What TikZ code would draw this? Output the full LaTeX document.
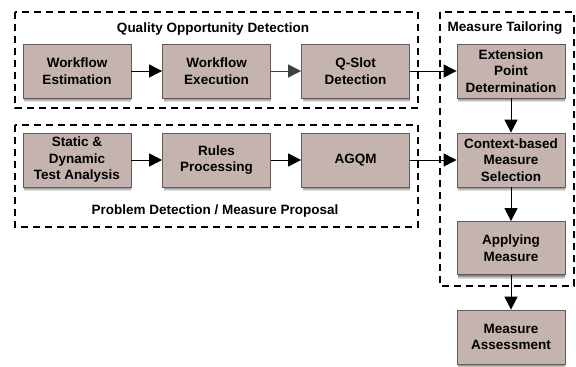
\documentclass[tikz,border=0pt]{standalone}
\usepackage{fontspec}
\setmainfont{Liberation Sans}
\usetikzlibrary{arrows.meta}
\definecolor{boxfill}{HTML}{C4B3AF}
\definecolor{boxline}{HTML}{6A5856}
\definecolor{shade}{HTML}{CFCACA}
\tikzset{
  x=1pt,y=-1pt,
  proc/.style={draw=boxline,fill=boxfill,line width=0.8pt,minimum width=108pt,minimum height=54pt,
    align=center,font=\fontsize{13.5}{16.5}\selectfont\bfseries,inner sep=1pt},
  grp/.style={draw,dashed,dash pattern=on 7pt off 5pt,line width=1.2pt},
  arr/.style={-{Triangle[length=13pt,width=13pt]},line width=1pt},
  lbl/.style={font=\fontsize{13.5}{16}\selectfont\bfseries,inner sep=0pt}
}
\newcommand{\shadowbox}[2]{\fill[shade] (#1+1,#2+54) rectangle (#1+108,#2+58);}
\begin{document}
\begin{tikzpicture}
\useasboundingbox (0,0) rectangle (576,367);
% groups
\draw[grp] (15,12) rectangle (418,108);
\draw[grp] (15,125) rectangle (418,227);
\draw[grp] (440,12) rectangle (574,286);
\node[lbl] (qodl) at (213,29) {Quality Opportunity Detection};
\node[lbl] (mtl) at (505,28) {Measure Tailoring};
\node[lbl] (pdl) at (215,211) {Problem Detection / Measure Proposal};
% shadows
\shadowbox{23}{44}
\shadowbox{163}{44}
\shadowbox{302}{44}
\shadowbox{457}{44}
\shadowbox{23}{133}
\shadowbox{163}{133}
\shadowbox{302}{133}
\shadowbox{457}{133}
\shadowbox{457}{221}
\shadowbox{457}{310}
% nodes
\node[proc] (we) at (77,71) {Workflow\\Estimation};
\node[proc] (wx) at (216.5,71) {Workflow\\Execution};
\node[proc] (qs) at (355.5,71) {Q-Slot\\Detection};
\node[proc] (ep) at (511,71) {Extension\\Point\\Determination};
\node[proc] (sd) at (77,160) {Static \&\\Dynamic\\Test Analysis};
\node[proc] (rp) at (216.5,160) {Rules\\Processing};
\node[proc] (ag) at (355.5,160) {AGQM};
\node[proc] (cb) at (511,160) {Context-based\\Measure\\Selection};
\node[proc,minimum height=53pt] (am) at (511,248) {Applying\\Measure};
\node[proc] (ma) at (511,337) {Measure\\Assessment};
% arrows
\draw[arr] (we) -- (wx);
\draw[arr,draw=black!75,fill=black!75] (wx) -- (qs);
\draw[arr] (qs) -- (ep);
\draw[arr] (sd) -- (rp);
\draw[arr] (rp) -- (ag);
\draw[arr] (ag) -- (cb);
\draw[arr] (ep) -- (cb);
\draw[arr] (cb) -- (am);
\draw[arr] (am) -- (ma);
\end{tikzpicture}
\end{document}
